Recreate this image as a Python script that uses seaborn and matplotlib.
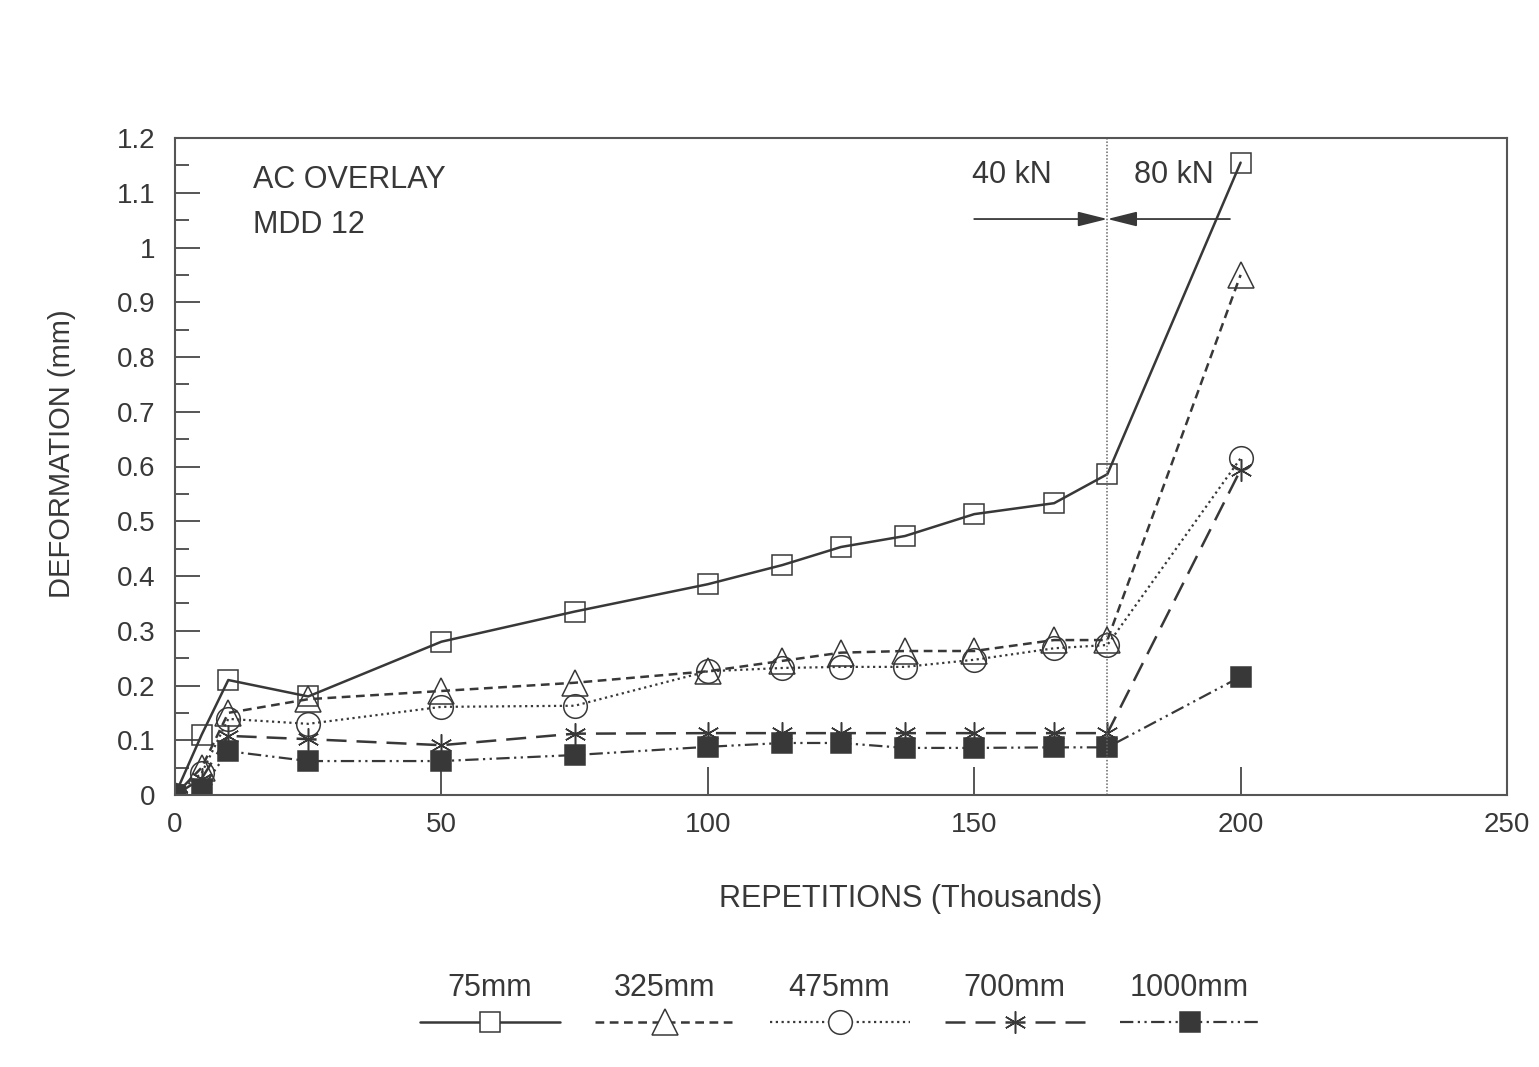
import matplotlib
matplotlib.use("Agg")
import matplotlib.pyplot as plt
import seaborn as sns
import pandas as pd
from matplotlib.ticker import FormatStrFormatter, MultipleLocator, FixedLocator

# ---- data ----
repetitions = [0, 5, 10, 25, 50, 75, 100, 114, 125, 137, 150, 165, 175, 200]
d75 = [0, 0.11, 0.21, 0.18, 0.28, 0.335, 0.385, 0.42, 0.453, 0.473, 0.513, 0.533, 0.586, 1.155]
d325 = [0, 0.05, 0.15, 0.175, 0.19, 0.205, 0.226, 0.245, 0.26, 0.263, 0.263, 0.283, 0.283, 0.95]
d475 = [0, 0.04, 0.139, 0.13, 0.161, 0.163, 0.226, 0.232, 0.234, 0.234, 0.247, 0.268, 0.274, 0.615]
d700 = [0, 0.03, 0.108, 0.102, 0.091, 0.112, 0.113, 0.113, 0.113, 0.113, 0.113, 0.113, 0.113, 0.594]
d1000 = [0, 0.011, 0.08, 0.062, 0.062, 0.073, 0.088, 0.095, 0.095, 0.086, 0.086, 0.087, 0.087, 0.216]
series_names = ["75mm", "325mm", "475mm", "700mm", "1000mm"]
series_values = [d75, d325, d475, d700, d1000]
x_ticks = [0, 50, 100, 150, 200, 250]
y_ticks = [0, 0.1, 0.2, 0.3, 0.4, 0.5, 0.6, 0.7, 0.8, 0.9, 1.0, 1.1, 1.2]
load_change = 175
load_labels = ["40 kN", "80 kN"]
annot_lines = ["AC OVERLAY", "MDD 12"]

rows = []
for name, vals in zip(series_names, series_values):
    for xv, yv in zip(repetitions, vals):
        rows.append({"rep": xv, "def": yv, "depth": name})
df = pd.DataFrame(rows)

# ---- style ----
sns.set_style("ticks")
plt.rcParams["font.family"] = ["Liberation Sans", "DejaVu Sans"]
ink = "#383838"
plt.rcParams["text.color"] = ink
plt.rcParams["axes.edgecolor"] = "#555555"

styles = {
    "75mm": dict(ls="-", marker="s", mfc="none", ms=15, lw=1.8),
    "325mm": dict(ls=(0, (3.5, 2.2)), marker="^", mfc="none", ms=19, lw=1.8),
    "475mm": dict(ls=(0, (1, 1.6)), marker="o", mfc="none", ms=17, lw=1.6),
    "700mm": dict(ls=(0, (8, 4)), marker=(6, 2, 0), mfc="none", ms=16, lw=1.8),
    "1000mm": dict(ls=(0, (6, 2, 1, 2, 1, 2)), marker="s", mfc=ink, ms=15, lw=1.6),
}

W, H = 1539, 1067
fig = plt.figure(figsize=(W / 100, H / 100), dpi=100)
ax = fig.add_axes([175 / W, 1 - 795 / H, (1507 - 175) / W, (795 - 138) / H])

for name in series_names:
    st = styles[name]
    sub = df[df["depth"] == name]
    sns.lineplot(data=sub, x="rep", y="def", ax=ax, sort=False, errorbar=None,
                 color=ink, linestyle=st["ls"], linewidth=st["lw"],
                 marker=st["marker"], markersize=st["ms"],
                 markerfacecolor=st["mfc"], markeredgecolor=ink,
                 markeredgewidth=1.1, legend=False)

ax.set_xlim(0, 250)
ax.set_ylim(0, 1.2)
ax.xaxis.set_major_locator(FixedLocator(x_ticks))
ax.yaxis.set_major_locator(FixedLocator(y_ticks))
ax.yaxis.set_minor_locator(MultipleLocator(0.05))
ax.yaxis.set_major_formatter(FormatStrFormatter("%g"))
ax.tick_params(axis="both", which="both", direction="in", labelsize=20, colors=ink)
ax.tick_params(axis="y", which="major", length=18, width=1.2, pad=14)
ax.tick_params(axis="y", which="minor", length=10, width=1.2)
ax.tick_params(axis="x", which="major", length=20, width=1.2, pad=12)
for s in ax.spines.values():
    s.set_linewidth(1.5)

ax.set_xlabel("REPETITIONS (Thousands)", fontsize=22, color=ink)
ax.xaxis.set_label_coords(0.552, -0.135)
ax.set_ylabel("DEFORMATION (mm)", fontsize=21, color=ink)
ax.yaxis.set_label_coords(-0.074, 0.52)

# load change marker
ax.axvline(load_change, color="#666666", ls=(0, (1, 1.2)), lw=1.1)
yarr = 1.052
ax.annotate("", xy=(load_change, yarr), xytext=(150, yarr),
            arrowprops=dict(arrowstyle="-|>,head_length=1.8,head_width=0.45",
                            color=ink, lw=1.3, shrinkA=0, shrinkB=0))
ax.annotate("", xy=(load_change, yarr), xytext=(198, yarr),
            arrowprops=dict(arrowstyle="-|>,head_length=1.8,head_width=0.45",
                            color=ink, lw=1.3, shrinkA=0, shrinkB=0))
ax.text(157, 1.133, load_labels[0], ha="center", va="center", fontsize=22)
ax.text(187.5, 1.133, load_labels[1], ha="center", va="center", fontsize=22)

ax.text(14.7, 1.124, annot_lines[0], ha="left", va="center", fontsize=22)
ax.text(14.7, 1.042, annot_lines[1], ha="left", va="center", fontsize=22)

# custom legend (labels above handles)
lg = fig.add_axes([402 / W, 1 - 1045 / H, 875 / W, 85 / H])
lg.set_xlim(0, 5)
lg.set_ylim(0, 1)
lg.axis("off")
for i, name in enumerate(series_names):
    st = styles[name]
    lg.plot([i + 0.1, i + 0.9], [0.27, 0.27], color=ink, linestyle=st["ls"], lw=st["lw"])
    lg.plot([i + 0.5], [0.27], color=ink, marker=st["marker"], ms=st["ms"],
            mfc="white" if st["mfc"] == "none" else st["mfc"], mec=ink, mew=1.1, ls="none")
    lg.text(i + 0.5, 0.67, name, ha="center", va="center", fontsize=22)

fig.savefig("out.png", dpi=100, facecolor="white")
